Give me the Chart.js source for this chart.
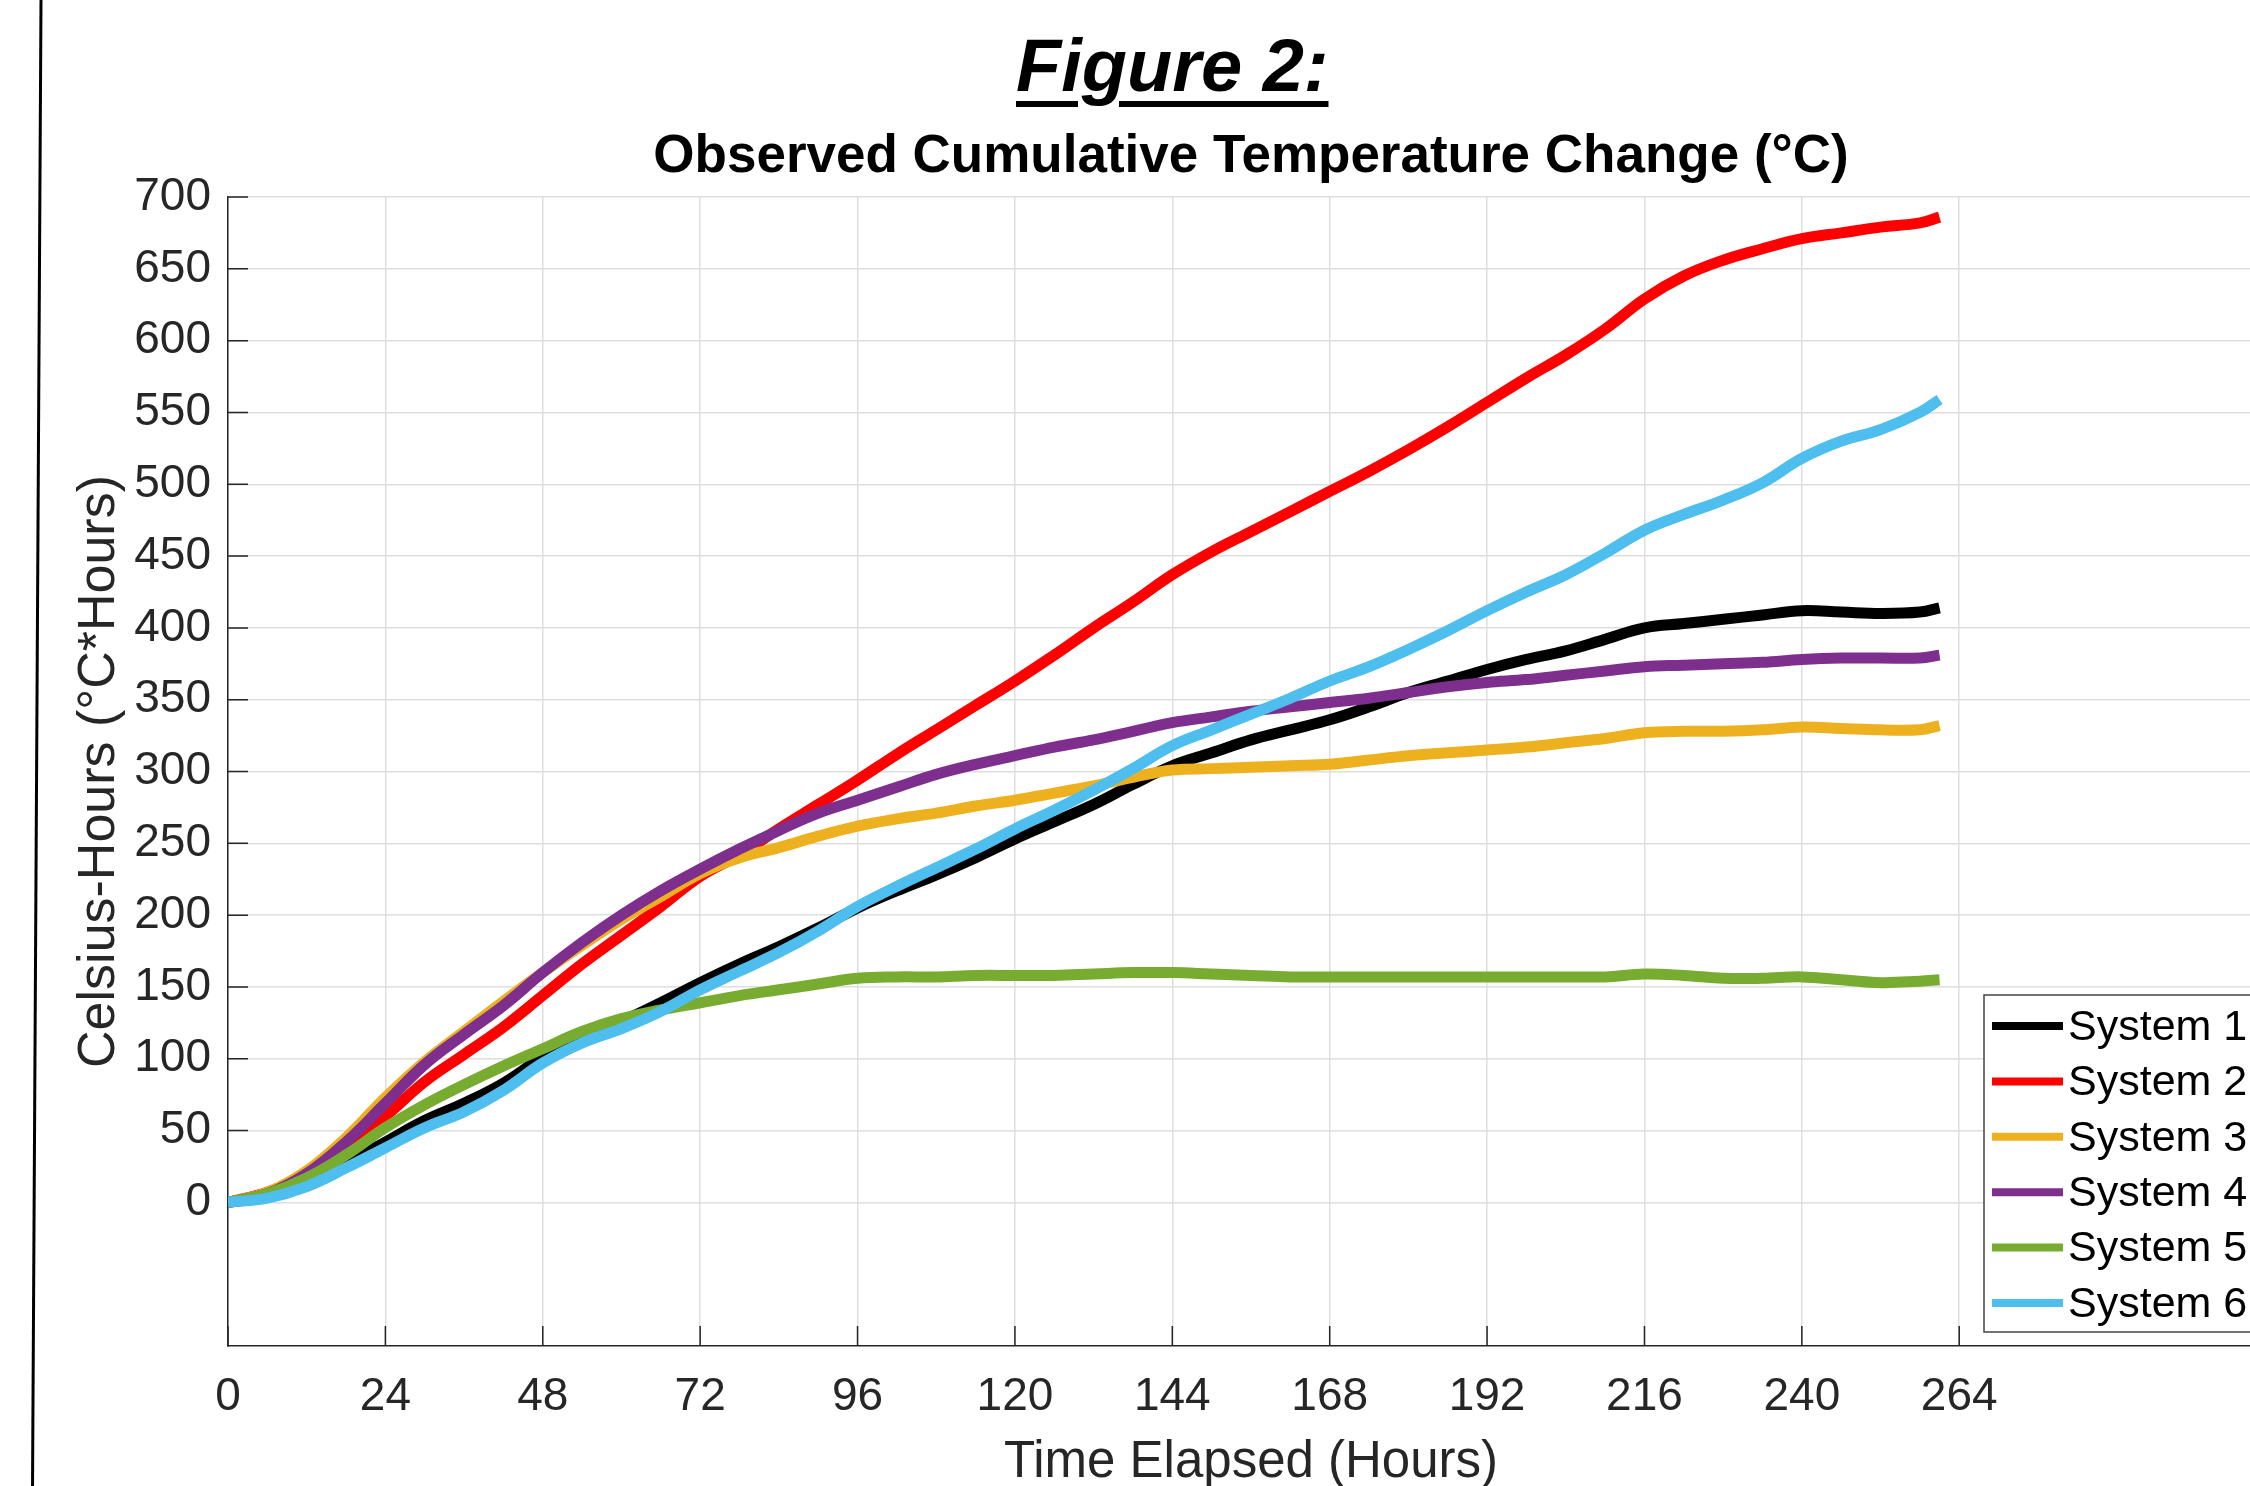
<!DOCTYPE html>
<html>
<head>
<meta charset="utf-8">
<title>Figure 2</title>
<script src="https://cdn.jsdelivr.net/npm/chart.js@4.4.0/dist/chart.umd.min.js"></script>
<style>
  html, body { margin: 0; padding: 0; background: #fff; overflow: hidden; width: 2250px; height: 1486px; }
  #tempChart { position: absolute; left: 0; top: 0; }
  #figLabel {
    position: absolute; left: 1016px; top: 29px;
    font: italic bold 74px Arial, "Liberation Sans", sans-serif; line-height: 74px;
    text-decoration: underline; text-decoration-thickness: 6px; text-underline-offset: 10px;
    color: #000; white-space: nowrap;
  }
</style>
</head>
<body>
<canvas id="tempChart" width="2502" height="1486"></canvas>
<div id="figLabel">Figure 2:</div>
<script>
const FONT = 'Arial, "Liberation Sans", Helvetica, sans-serif';

// hours since start
const hours = [0, 6, 12, 18, 24, 30, 36, 42, 48, 54, 60, 66, 72, 78, 84, 90, 96, 102, 108, 114, 120,
  126, 132, 138, 144, 150, 156, 162, 168, 174, 180, 186, 192, 198, 204, 210, 216, 222, 228, 234,
  240, 246, 252, 258, 261];

// cumulative celsius-hours per system
const system1 = [0, 4, 13, 27, 42, 57, 69, 83, 101, 115, 126, 139, 153, 166, 178, 191, 205, 217, 228, 240, 253,
  265, 277, 291, 304, 313, 322, 329, 336, 345, 355, 363, 371, 378, 384, 392, 400, 403, 406, 409,
  412, 411, 410, 411, 414];
const system2 = [0, 7, 19, 38, 60, 84, 103, 122, 144, 166, 186, 206, 227, 242, 260, 277, 294, 312, 329, 346, 363,
  381, 400, 418, 437, 453, 467, 481, 495, 509, 524, 540, 557, 574, 590, 608, 629, 645, 656, 664,
  671, 675, 679, 682, 686];
const system3 = [0, 7, 22, 45, 73, 98, 119, 140, 160, 179, 197, 213, 229, 240, 247, 255, 262, 267, 271, 276, 280,
  285, 290, 296, 301, 302, 303, 304, 305, 308, 311, 313, 315, 317, 320, 323, 327, 328, 328, 329,
  331, 330, 329, 329, 332];
const system4 = [0, 6, 20, 42, 69, 96, 117, 137, 160, 181, 200, 217, 232, 246, 259, 271, 280, 289, 298, 305, 311,
  317, 322, 328, 334, 338, 342, 345, 348, 351, 355, 359, 362, 364, 367, 370, 373, 374, 375, 376,
  378, 379, 379, 379, 381];
const system5 = [0, 6, 17, 33, 52, 68, 82, 95, 107, 119, 128, 134, 139, 144, 148, 152, 156, 157, 157, 158, 158,
  158, 159, 160, 160, 159, 158, 157, 157, 157, 157, 157, 157, 157, 157, 157, 159, 158, 156, 156,
  157, 155, 153, 154, 155];
const system6 = [0, 3, 11, 24, 38, 52, 63, 78, 97, 111, 121, 133, 148, 161, 174, 189, 206, 220, 233, 246, 260,
  273, 287, 302, 318, 329, 340, 351, 363, 373, 385, 398, 412, 425, 437, 452, 468, 479, 489, 501,
  518, 530, 538, 550, 559];

const seriesNames = ['System 1', 'System 2', 'System 3', 'System 4', 'System 5', 'System 6'];
const seriesValues = [system1, system2, system3, system4, system5, system6];
const seriesColors = ['#000000', '#ff0000', '#edb120', '#7e2f8e', '#77ac30', '#4dbeee'];

const xTicksShown = 264;   // last labelled hour
const yTicksFrom = 0;      // no labels below zero

function toPoints(values) {
  return hours.map((h, i) => ({ x: h, y: values[i] }));
}

// thin black page edge on the left
const pageEdge = {
  id: 'pageEdge',
  afterDraw(chart) {
    const ctx = chart.ctx;
    ctx.save();
    ctx.strokeStyle = '#000';
    ctx.lineWidth = 3;
    ctx.beginPath();
    ctx.moveTo(41, 0);
    ctx.lineTo(32.5, 1486);
    ctx.stroke();
    ctx.restore();
  }
};

// matlab style ticks pointing into the plot
const innerTicks = {
  id: 'innerTicks',
  beforeDatasetsDraw(chart) {
    const { ctx, chartArea, scales } = chart;
    ctx.save();
    ctx.strokeStyle = '#262626';
    ctx.lineWidth = 1.5;
    ctx.beginPath();
    scales.y.ticks.forEach(t => {
      const py = scales.y.getPixelForValue(t.value);
      ctx.moveTo(chartArea.left, py);
      ctx.lineTo(chartArea.left + 20, py);
    });
    scales.x.ticks.forEach(t => {
      const px = scales.x.getPixelForValue(t.value);
      ctx.moveTo(px, chartArea.bottom);
      ctx.lineTo(px, chartArea.bottom - 20);
    });
    ctx.stroke();
    ctx.restore();
  }
};

// boxed legend sitting inside the lower right of the axes
const boxLegend = {
  id: 'boxLegend',
  afterDraw(chart) {
    const ctx = chart.ctx;
    const left = 1984, top = 995, rowH = 55.4;
    ctx.save();
    ctx.fillStyle = '#fff';
    ctx.fillRect(left, top, 330, 337);
    ctx.strokeStyle = '#444';
    ctx.lineWidth = 1.5;
    ctx.strokeRect(left, top, 330, 337);
    ctx.font = '43px ' + FONT;
    ctx.textBaseline = 'middle';
    chart.data.datasets.forEach((ds, i) => {
      const cy = top + 31 + i * rowH;
      ctx.strokeStyle = ds.borderColor;
      ctx.lineWidth = 8;
      ctx.beginPath();
      ctx.moveTo(left + 8, cy);
      ctx.lineTo(left + 79, cy);
      ctx.stroke();
      ctx.fillStyle = '#000';
      ctx.fillText(ds.label, left + 84, cy + 2);
    });
    ctx.restore();
  }
};

const ctx = document.getElementById('tempChart').getContext('2d');
new Chart(ctx, {
  type: 'line',
  data: {
    datasets: seriesNames.map((name, i) => ({
      label: name,
      data: toPoints(seriesValues[i]),
      borderColor: seriesColors[i],
      backgroundColor: seriesColors[i],
      borderWidth: 11,
      pointRadius: 0,
      tension: 0.4,
      fill: false,
      borderCapStyle: 'butt',
      borderJoinStyle: 'round',
      order: seriesNames.length - i
    }))
  },
  options: {
    responsive: false,
    animation: false,
    layout: { padding: { left: 0, right: 228, top: 0, bottom: 0 } },
    plugins: {
      legend: { display: false },
      tooltip: { enabled: false },
      title: {
        display: true,
        fullSize: false,
        text: 'Observed Cumulative Temperature Change (°C)',
        color: '#000',
        font: { family: FONT, size: 53, weight: 'bold', lineHeight: 1.2 },
        padding: { top: 126, bottom: 7.4 }
      }
    },
    scales: {
      x: {
        type: 'linear',
        min: 0,
        max: 312,
        afterBuildTicks: s => { s.ticks = s.ticks.filter(t => t.value <= xTicksShown); },
        afterFit: s => { s.height = 140; },
        ticks: { stepSize: 24, padding: 24, autoSkip: false, maxRotation: 0, color: '#262626', font: { family: FONT, size: 46 } },
        grid: { color: '#dedede', lineWidth: 1.5, drawTicks: false },
        border: { color: '#262626', width: 1.5 },
        title: {
          display: true,
          text: 'Time Elapsed (Hours)',
          color: '#262626',
          font: { family: FONT, size: 51, lineHeight: 0.9 },
          padding: { top: 0, bottom: 0 }
        }
      },
      y: {
        type: 'linear',
        min: -100,
        max: 700,
        afterBuildTicks: s => { s.ticks = s.ticks.filter(t => t.value >= yTicksFrom); },
        afterFit: s => { s.width = 228; },
        ticks: { stepSize: 50, padding: 17, color: '#262626', font: { family: FONT, size: 46 } },
        grid: { color: '#dedede', lineWidth: 1.5, drawTicks: false },
        border: { color: '#262626', width: 1.5 },
        title: {
          display: true,
          text: 'Celsius-Hours (°C*Hours)',
          color: '#262626',
          font: { family: FONT, size: 52, lineHeight: 1.2 },
          padding: { top: 68, bottom: 0 }
        }
      }
    }
  },
  plugins: [innerTicks, boxLegend, pageEdge]
});
</script>
</body>
</html>
